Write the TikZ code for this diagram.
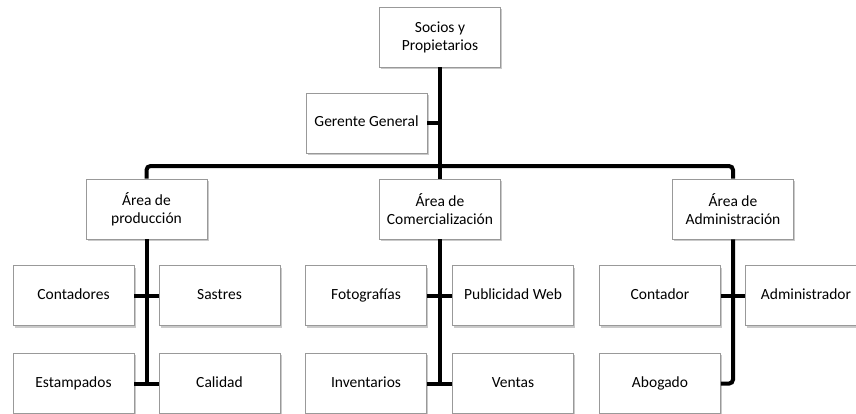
\documentclass[tikz,border=0pt]{standalone}
\usepackage{fontspec}
\setmainfont{Carlito}
\usetikzlibrary{positioning, shadows}

\begin{document}
\begin{tikzpicture}[
    x=1pt, y=-1pt,
    box/.style  ={draw=black!40, line width=0.8pt, fill=white, align=center,
                  minimum width=121pt, minimum height=60pt, inner sep=2pt,
                  font=\fontsize{15.5}{18}\selectfont,
                  drop shadow={shadow xshift=1.8pt, shadow yshift=-1.8pt,
                               fill=black!35, opacity=0.6}},
    leaf/.style ={box, text height=11pt, text depth=3.5pt},
    link/.style ={line width=4pt, rounded corners=4pt},
]
\useasboundingbox (0,0) rectangle (856,413);
\clip (0,0) rectangle (856,413);
\node[box]  (socios)  at (440,37)   {Socios y\\Propietarios};
\node[leaf] (gerente) at (366.5,123) {Gerente General};
\node[box]  (prod)    at (146.5,209) {Área de\\producción};
\node[box]  (com)     at (440,209)   {Área de\\Comercialización};
\node[box]  (adm)     at (733,209)   {Área de\\Administración};
\node[leaf, below=26pt of prod, xshift=-73pt] (contadores) {Contadores};
\node[leaf, below=26pt of prod, xshift=73pt]  (sastres)    {Sastres};
\node[leaf, below=27pt of contadores]         (estampados) {Estampados};
\node[leaf, below=27pt of sastres]            (calidad)    {Calidad};
\node[leaf, below=26pt of com, xshift=-74pt]  (fotos)      {Fotografías};
\node[leaf, below=26pt of com, xshift=73pt]   (publicidad) {Publicidad Web};
\node[leaf, below=27pt of fotos]              (inventarios){Inventarios};
\node[leaf, below=27pt of publicidad]         (ventas)     {Ventas};
\node[leaf, below=26pt of adm, xshift=-73pt]  (contador)   {Contador};
\node[leaf, below=26pt of adm, xshift=73pt]   (administrador) {Administrador};
\node[leaf, below=27pt of contador]           (abogado)    {Abogado};
\coordinate (bar) at (440,166);
\draw[link] (socios.south) -- (com.north);
\draw[link] (gerente.east) -- (gerente.east -| socios.south);
\draw[link] (prod.north) |- (bar) -| (adm.north);
\draw[link] (prod.south) -- (prod.south |- estampados.east);
\draw[link] (contadores.east) -- (sastres.west);
\draw[link] (estampados.east) -- (calidad.west);
\draw[link] (com.south) -- (com.south |- inventarios.east);
\draw[link] (fotos.east) -- (publicidad.west);
\draw[link] (inventarios.east) -- (ventas.west);
\draw[link] (adm.south) |- (abogado.east);
\draw[link] (contador.east) -- (administrador.west);
\end{tikzpicture}
\end{document}
